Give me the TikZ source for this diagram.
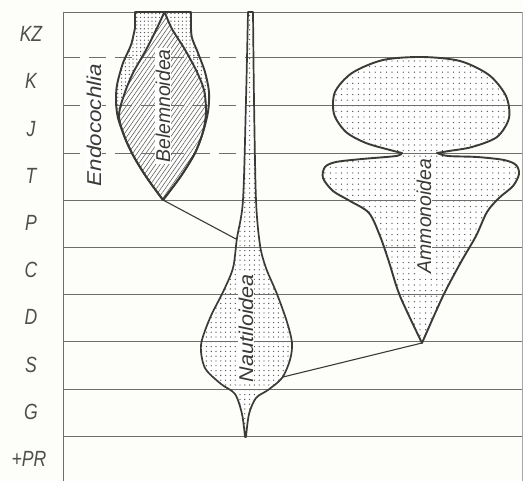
\documentclass[tikz,border=0pt]{standalone}
\usepackage{fontspec}
\newfontfamily\hand{Liberation Sans}
\usetikzlibrary{patterns.meta}
\definecolor{ink}{HTML}{3A3A36}
\definecolor{rulecol}{HTML}{6E6E6A}
\definecolor{paper}{HTML}{FDFDFA}
\newcommand\narrowtxt[2]{\scalebox{#1}[1]{#2}}
\begin{document}
\begin{tikzpicture}[x=1pt,y=-1pt,
  gridline/.style={draw=rulecol, line width=0.9pt},
  outline/.style={draw=ink, line width=1.9pt, line join=round},
  dotfill/.style={pattern={Dots[distance=#1, radius=0.7pt]}, pattern color=ink!85},
  hatchfill/.style={pattern={Lines[angle=55, distance=3.6pt, line width=0.55pt]}, pattern color=ink!85},
  connector/.style={draw=ink, line width=1.1pt},
  axlab/.style={font=\hand\itshape\fontsize{22}{22}\selectfont, text=ink!90},
  grouplab/.style={font=\hand\itshape\fontsize{20}{20}\selectfont, text=ink, fill=white, inner sep=1pt, rotate=90}]
\fill[paper] (0,0) rectangle (523,481);
\useasboundingbox (0,0) rectangle (523,481);

\def\endopath{(135,12) -- plot[smooth] coordinates {(135,28) (131,45) (123,63) (117,85) (116,102) (118,118) (125,138) (134,157) (147,178) (163,200)} -- plot[smooth] coordinates {(163,200) (181,176) (195,153) (203,132) (208,112) (209,92) (205,72) (198,53) (192,38) (191,28)} -- (191,12) -- cycle}
\def\belpath{plot[smooth] coordinates {(164,13) (157,28) (146,50) (133,73) (124,95) (119,116) (125,138) (134,157) (147,178) (163,200)} -- plot[smooth] coordinates {(163,200) (181,176) (195,153) (203,132) (206,112) (204,90) (196,70) (184,48) (172,29) (165,13)} -- cycle}
\def\nautpath{plot[smooth] coordinates {(248,12) (246,100) (243,200) (237,238) (233,268) (223,292) (210,318) (201,345) (205,368) (221,384) (235,394) (242,414) (245,437)} -- plot[smooth] coordinates {(246,437) (249,414) (256,398) (268,390) (282,378) (290,360) (292,343) (287,322) (277,294) (266,268) (260,245) (256,200) (254,100) (253,12)} -- cycle}
\def\ammpath{plot[smooth] coordinates {(402,153) (390,150) (366,143) (346,132) (334,114) (335,92) (352,73) (383,60) (422,57) (460,61) (489,75) (506,96) (509,118) (497,137) (472,147) (449,151) (437,153)} -- plot[smooth] coordinates {(437,153) (448,156) (477,157) (504,160) (516,165) (519,174) (513,186) (499,198) (487,212) (476,236) (461,262) (443,296) (422,343)} -- plot[smooth] coordinates {(422,343) (400,296) (389,262) (380,236) (369,213) (350,201) (333,191) (323,178) (325,167) (336,162) (362,159) (396,156) (402,153)} -- cycle}

% fills
\path[fill=white] \endopath;
\path[dotfill=3.8pt] \endopath;
\path[fill=white] \belpath;
\path[hatchfill] \belpath;
\path[fill=white] \nautpath;
\path[dotfill=4.8pt] \nautpath;
\path[fill=white] \ammpath;
\path[dotfill=5.6pt] \ammpath;

% grid
\draw[gridline] (63,12) -- (522,12);
\draw[gridline] (63,12) -- (63,481);
\draw[gridline, draw=rulecol!60] (522,12) -- (522,481);
\foreach \yy in {57,105,153} {
  \draw[gridline, dash pattern=on 17pt off 9pt] (63,\yy) -- (245,\yy);
  \draw[gridline] (245,\yy) -- (522,\yy);
}
\foreach \yy in {200,247,294,341,389,436}
  \draw[gridline] (63,\yy) -- (522,\yy);

% outlines
\draw[outline] \endopath;
\draw[outline] \belpath;
\draw[outline, line width=1.7pt] \nautpath;
\draw[outline] \ammpath;

% connectors
\coordinate (beltip) at (163,200);
\coordinate (nautA) at (236,239);
\coordinate (ammtip) at (422,343);
\coordinate (nautB) at (283,377);
\draw[connector] (beltip) -- (nautA);
\draw[connector] (ammtip) -- (nautB);

% group labels
\node[grouplab] (endo) at (94,125) {\narrowtxt{1.12}{Endocochlia}};
\node[grouplab] (bel) at (163,106) {\narrowtxt{0.97}{Belemnoidea}};
\node[grouplab] (naut) at (246,328) {\narrowtxt{1.08}{Nautiloidea}};
\node[grouplab] (amm) at (424,216) {\narrowtxt{0.97}{Ammonoidea}};

% axis labels
\node[axlab] (lKZ) at (31,34) {\narrowtxt{0.8}{KZ}};
\node[axlab] (lK) at (31,81) {\narrowtxt{0.8}{K}};
\node[axlab] (lJ) at (31,129) {\narrowtxt{0.8}{J}};
\node[axlab] (lT) at (31,176) {\narrowtxt{0.8}{T}};
\node[axlab] (lP) at (31,223) {\narrowtxt{0.8}{P}};
\node[axlab] (lC) at (31,270) {\narrowtxt{0.8}{C}};
\node[axlab] (lD) at (31,317) {\narrowtxt{0.8}{D}};
\node[axlab] (lS) at (31,365) {\narrowtxt{0.8}{S}};
\node[axlab] (lG) at (31,412) {\narrowtxt{0.8}{G}};
\node[axlab] (lPR) at (29,459) {\narrowtxt{0.8}{+PR}};
\end{tikzpicture}
\end{document}
